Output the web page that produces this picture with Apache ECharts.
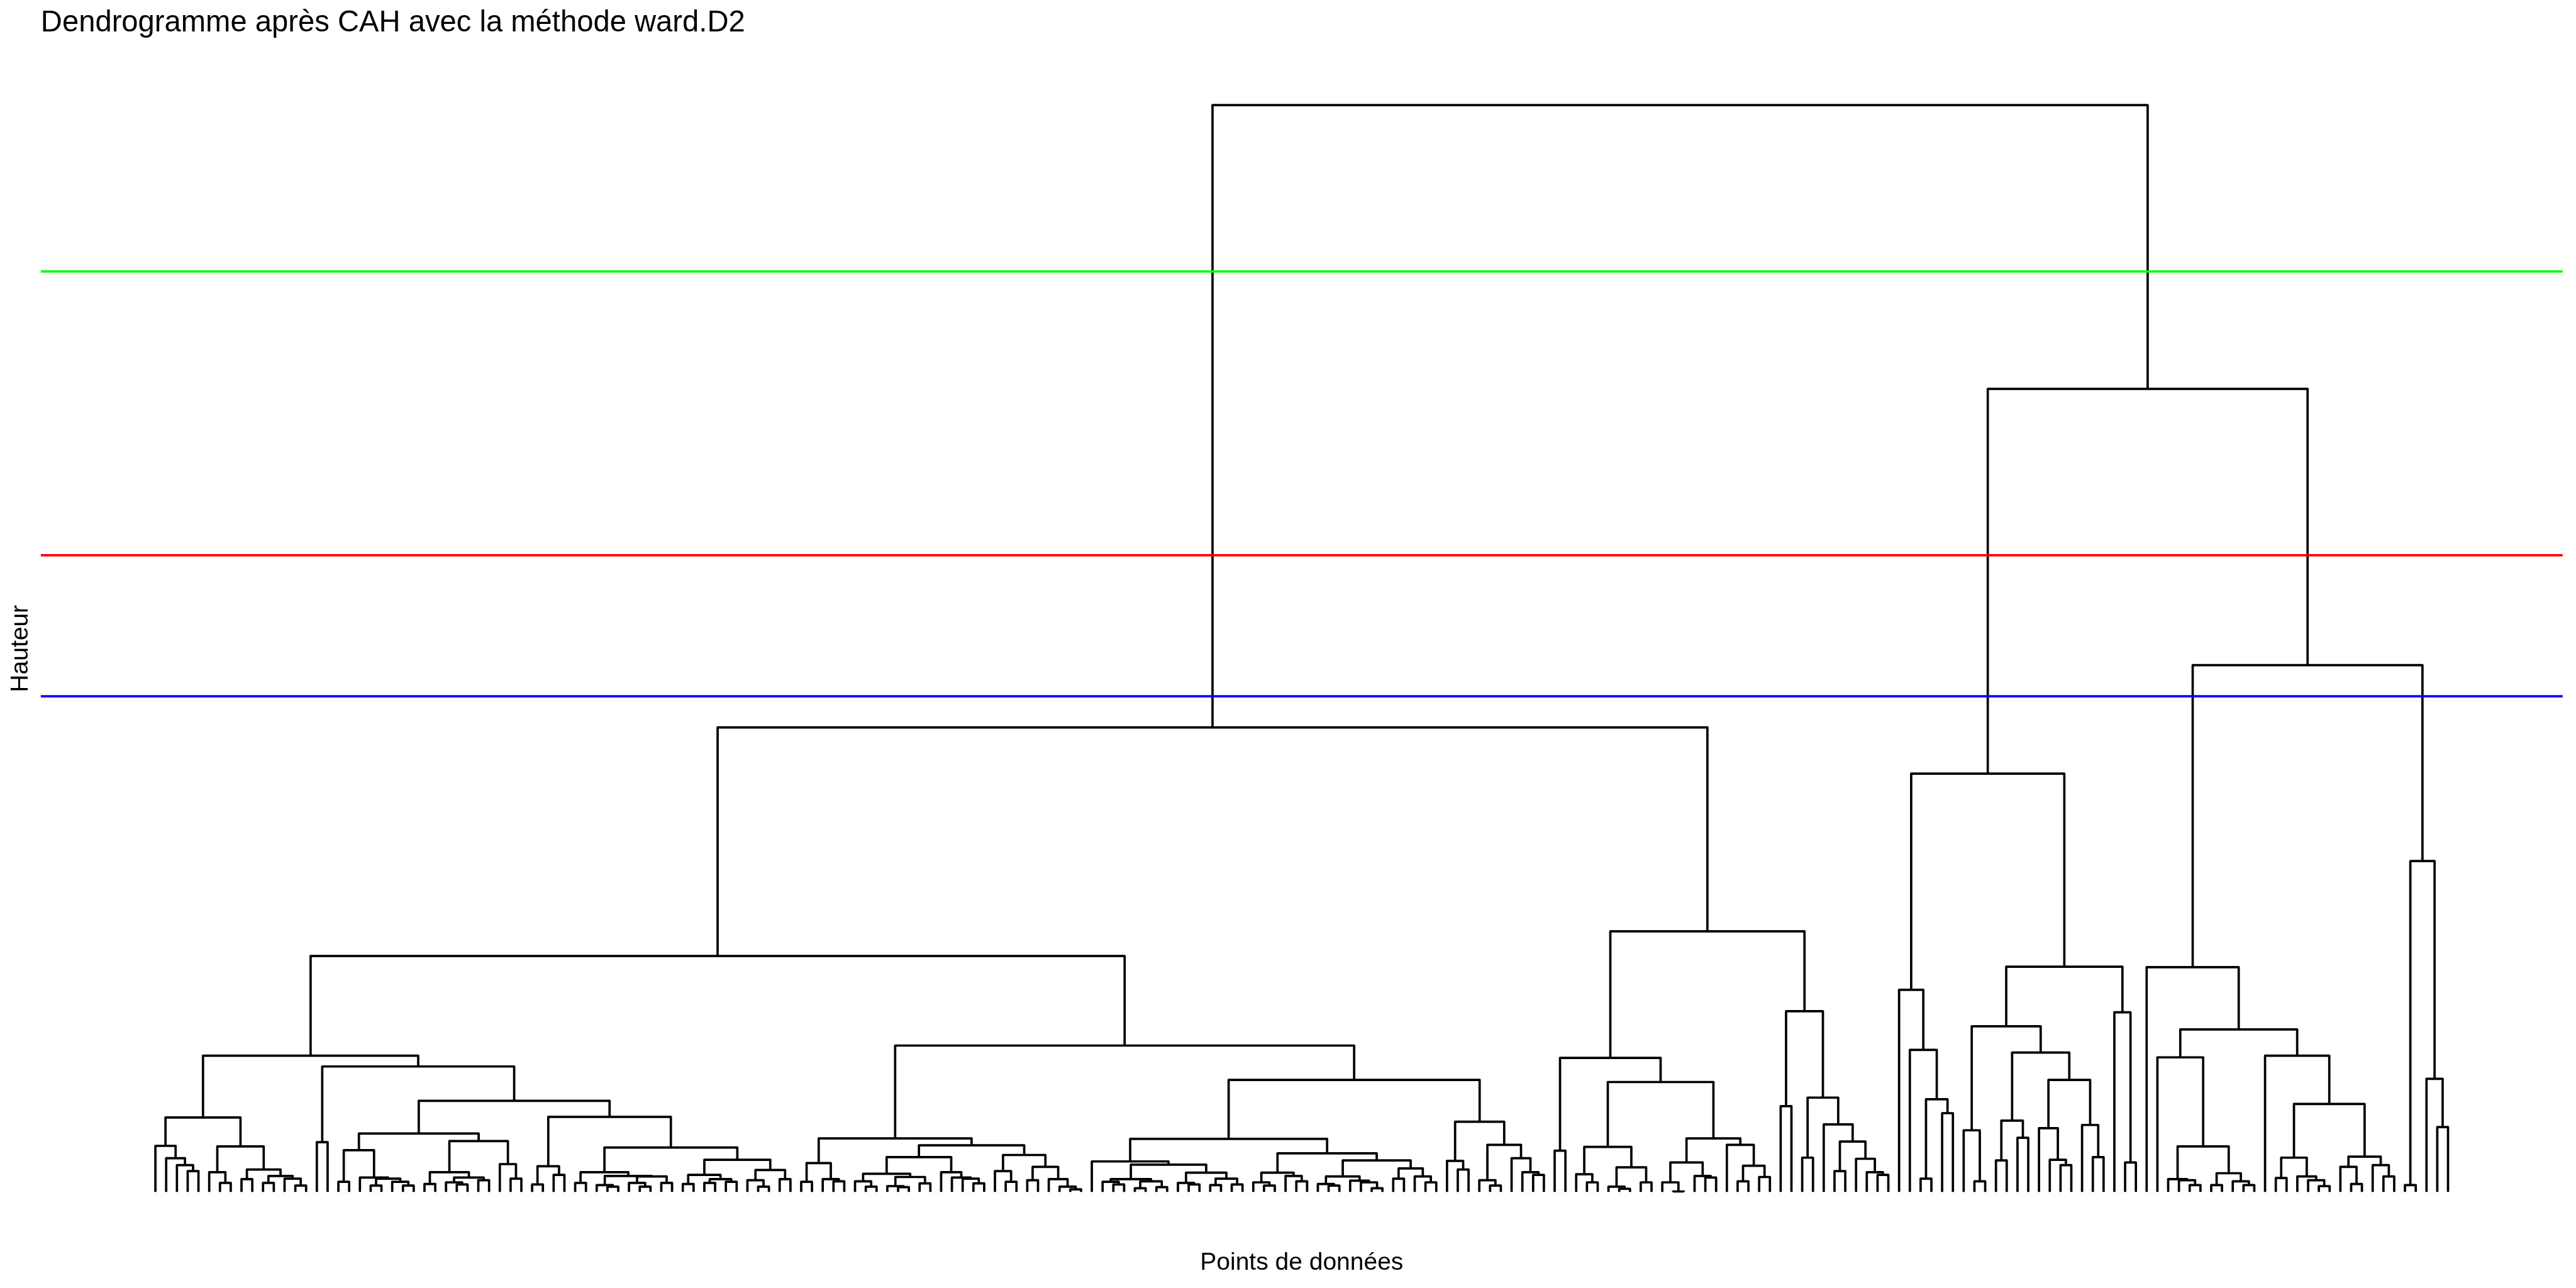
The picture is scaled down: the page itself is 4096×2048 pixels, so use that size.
<!DOCTYPE html>
<html>
<head>
<meta charset="utf-8">
<script src="https://cdn.jsdelivr.net/npm/echarts@6/dist/echarts.min.js"></script>
<style>
  html, body { margin: 0; padding: 0; background: #fff; }
  #chart { width: 4096px; height: 2048px; }
</style>
</head>
<body>
<div id="chart"></div>
<script>
// ---------------- DATA ----------------
// A node is [mergeHeight, leftChild, rightChild]; a leaf is o.
const o = null;

const titleText = 'Dendrogramme après CAH avec la méthode ward.D2';
const xTitle = 'Points de données';
const yTitle = 'Hauteur';

// cut heights and their colours
const cutHeights = [17.16, 11.87, 9.24];
const cutColors = ['#00FF00', '#FF0000', '#0000FF'];

// leaves 1-15
const clA = [1.39, [0.86, o, [0.63, o, [0.50, o, [0.39, o, o]]]],
  [0.85, [0.37, o, [0.17, o, o]], [0.42, [0.24, o, o], [0.30, [0.17, o, o], [0.25, o, [0.12, o, o]]]]]];
// leaves 18-35
const clT = [1.09, [0.78, [0.19, o, o], [0.27, o, [0.25, [0.12, o, o], [0.19, o, [0.12, o, o]]]]],
  [0.95, [0.37, [0.15, o, o], [0.27, [0.18, o, [0.14, o, o]], [0.22, o, o]]], [0.52, o, [0.25, o, o]]]];
// leaves 36-60
const clU = [1.40, [0.48, [0.14, o, o], [0.32, o, o]],
  [0.83, [0.37, [0.17, o, o], [0.30, [0.13, o, [0.10, o, o]], [0.29, [0.17, o, [0.10, o, o]], [0.17, o, o]]]],
    [0.60, [0.32, [0.15, o, o], [0.24, [0.17, o, o], [0.19, o, o]]], [0.41, [0.22, o, [0.10, o, o]], [0.24, o, o]]]]];
// leaves 1-60
const clP = [2.54, clA, [2.34, [0.93, o, o], [1.70, clT, clU]]];
// leaves 61-87
const clK1 = [1.00, [0.54, [0.19, o, o], [0.24, o, [0.20, o, o]]],
  [0.87, [0.65, [0.34, [0.20, o, [0.10, o, o]], [0.28, [0.11, o, [0.09, o, o]], [0.16, o, o]]],
    [0.37, o, [0.27, o, [0.25, o, [0.16, o, o]]]]],
    [0.69, [0.39, o, [0.19, o, o]], [0.47, [0.22, o, o], [0.24, o, [0.10, o, [0.05, o, o]]]]]]];
// leaves 88-130
const clK2 = [2.09,
  [0.99, [0.57, o, [0.51, [0.24, [0.19, o, [0.14, o, o]], [0.20, [0.07, o, o], [0.09, o, o]]],
    [0.36, [0.17, o, [0.14, o, o]], [0.25, [0.13, o, o], [0.14, o, o]]]]],
    [0.72, [0.36, [0.18, o, [0.12, o, o]], [0.30, o, [0.20, o, o]]],
      [0.59, [0.29, [0.15, o, [0.12, o, o]], [0.21, o, [0.18, o, [0.07, o, o]]]],
        [0.44, [0.25, o, o], [0.29, o, [0.18, o, o]]]]]],
  [1.31, [0.58, o, [0.42, o, o]], [0.88, [0.22, o, [0.12, o, o]], [0.63, o, [0.37, o, [0.32, o, o]]]]]];
const clPK = [4.40, clP, [2.73, clK1, clK2]];
// leaves 131-162
const clM = [4.86,
  [2.50, [0.77, o, o],
    [2.05, [0.84, [0.33, o, [0.18, o, o]], [0.46, [0.10, o, [0.06, o, o]], [0.18, o, o]]],
      [1.00, [0.55, [0.18, o, [0.01, o, o]], [0.30, o, [0.27, o, o]]],
        [0.88, o, [0.49, [0.20, o, o], [0.28, o, o]]]]]],
  [3.37, [1.60, o, o], [1.76, [0.64, o, o], [1.26, o, [0.94, [0.39, o, o], [0.62, o, [0.37, o, [0.32, o, o]]]]]]]];
const clL = [8.66, clPK, clM];
// leaves 163-185
const clR1 = [7.80,
  [3.77, o, [2.65, o, [1.73, [0.25, o, o], [1.47, o, o]]]],
  [4.20, [3.09, [1.15, o, [0.20, o, o]],
    [2.60, [1.33, [0.59, o, o], [1.01, o, o]],
      [2.09, [1.19, o, [0.60, o, [0.50, o, o]]], [1.25, o, [0.65, o, o]]]]],
    [3.35, o, [0.55, o, o]]]];
// leaves 186-214
const clR2 = [9.82,
  [4.19, o, [3.03,
    [2.51, o, [0.85, [0.24, o, [0.22, o, [0.13, o, o]]], [0.35, [0.13, o, o], [0.20, o, [0.13, o, o]]]]],
    [2.54, o, [1.64, [0.64, [0.26, o, o], [0.29, o, [0.22, o, [0.11, o, o]]]],
      [0.66, [0.47, o, [0.15, o, o]], [0.50, o, [0.29, o, o]]]]]]],
  [6.17, [0.13, o, o], [2.11, o, [1.21, o, o]]]];
const clR = [14.97, clR1, clR2];
const tree = [20.26, clL, clR];

// ---------------- BUILD SEGMENTS ----------------
const segs = [];
let leafCount = 0;
function place(node) {
  if (node === o) { leafCount++; return [leafCount, 0]; }
  const a = place(node[1]);
  const b = place(node[2]);
  segs.push([a[0], a[1], a[0], node[0], b[0], node[0], b[0], b[1]]);
  return [(a[0] + b[0]) / 2, node[0]];
}
place(tree);
const nLeaves = leafCount;
const xPad = 0.05 * (nLeaves - 1);
const xMin = 1 - xPad, xMax = nLeaves + xPad;
const yPad = 0.05 * tree[0];
const yMin = -yPad, yMax = tree[0] + yPad;

const S = 0.853;
const FONT = '"Liberation Sans", Arial, Helvetica, sans-serif';
const LW = 3.7;

const gridLeft = 76 * S, gridRightX = 4777 * S, gridTop = 94.7 * S, gridBottomY = 2323.3 * S;

const chart = echarts.init(document.getElementById('chart'), null, { renderer: 'canvas' });
chart.setOption({
  animation: false,
  backgroundColor: '#ffffff',
  title: {
    text: titleText,
    left: gridLeft,
    top: 36.5 - 23.6,
    padding: 0,
    textStyle: { fontFamily: FONT, fontSize: 47.2, lineHeight: 47.2, fontWeight: 'normal', color: '#000000' }
  },
  grid: { left: gridLeft, right: 4096 - gridRightX, top: gridTop, bottom: 2048 - gridBottomY, containLabel: false },
  xAxis: { type: 'value', min: xMin, max: xMax, show: false },
  yAxis: { type: 'value', min: yMin, max: yMax, show: false },
  graphic: [
    {
      type: 'text', x: (gridLeft + gridRightX) / 2, y: 2008, silent: true,
      style: { text: xTitle, font: '39px ' + FONT, fill: '#000', align: 'center', verticalAlign: 'middle', textAlign: 'center', textVerticalAlign: 'middle' }
    },
    {
      type: 'text', x: 33.3, y: (gridTop + gridBottomY) / 2, rotation: Math.PI / 2, silent: true,
      style: { text: yTitle, font: '39px ' + FONT, fill: '#000', align: 'center', verticalAlign: 'middle', textAlign: 'center', textVerticalAlign: 'middle' }
    }
  ],
  series: [
    {
      type: 'custom',
      silent: true,
      z: 2,
      data: segs,
      encode: { x: [0, 2, 4, 6], y: [1, 3, 5, 7] },
      renderItem: function (params, api) {
        const pts = [];
        for (let k = 0; k < 4; k++) pts.push(api.coord([api.value(2 * k), api.value(2 * k + 1)]));
        return {
          type: 'polyline',
          shape: { points: pts },
          style: { stroke: '#000000', lineWidth: LW, fill: null, lineJoin: 'round', lineCap: 'butt' }
        };
      }
    },
    {
      type: 'custom',
      silent: true,
      z: 3,
      data: cutHeights.map((v, i) => [v, i]),
      encode: { y: 0 },
      renderItem: function (params, api) {
        const v = api.value(0);
        const p1 = api.coord([xMin, v]);
        const p2 = api.coord([xMax, v]);
        return {
          type: 'line',
          shape: { x1: p1[0], y1: p1[1], x2: p2[0], y2: p2[1] },
          style: { stroke: cutColors[api.value(1)], lineWidth: LW }
        };
      }
    }
  ]
});
</script>
</body>
</html>
